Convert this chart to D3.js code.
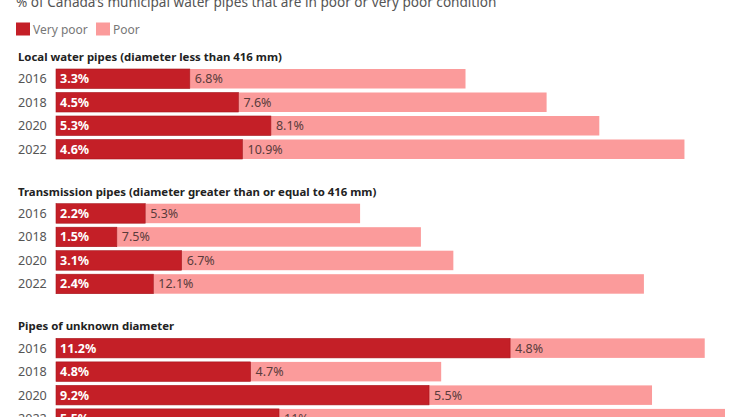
<!DOCTYPE html>
<html>
<head>
<meta charset="utf-8">
<script src="https://cdn.jsdelivr.net/npm/d3@7"></script>
<style>
  body { margin: 0; background: #fff; }
  svg { display: block; font-family: "Noto Sans", "Open Sans", sans-serif; }
</style>
</head>
<body>
<div id="chart"></div>
<script>
// pipe condition chart - stacked horizontal bars, three groups
var years = ["2016", "2018", "2020", "2022"];
var groupTitles = [
  "Local water pipes (diameter less than 416 mm)",
  "Transmission pipes (diameter greater than or equal to 416 mm)",
  "Pipes of unknown diameter"
];
var veryPoorLocal = [3.3, 4.5, 5.3, 4.6];
var poorLocal = [6.8, 7.6, 8.1, 10.9];
var veryPoorTrans = [2.2, 1.5, 3.1, 2.4];
var poorTrans = [5.3, 7.5, 6.7, 12.1];
var veryPoorUnknown = [11.2, 4.8, 9.2, 5.5];
var poorUnknown = [4.8, 4.7, 5.5, 11];
var seriesNames = ["Very poor", "Poor"];

var W = 740, H = 417;
var darkRed = "#c41f27", lightRed = "#fb9b9b";

var svg = d3.select("#chart").append("svg")
  .attr("width", W)
  .attr("height", H);

var x = d3.scaleLinear().domain([0, 16.5]).range([56, 725]);

// subtitle, mostly cut off at top
svg.append("text")
  .attr("x", 16).attr("y", 7)
  .attr("font-size", 13.6)
  .attr("fill", "#555")
  .text("% of Canada\u2019s municipal water pipes that are in poor or very poor condition");

// legend
var legend = svg.append("g");
var legX = [16, 96];
seriesNames.forEach(function(n, i) {
  legend.append("rect")
    .attr("x", legX[i]).attr("y", 22.5)
    .attr("width", 14).attr("height", 13)
    .attr("fill", i == 0 ? darkRed : lightRed);
  legend.append("text")
    .attr("x", legX[i] + 17).attr("y", 33.5)
    .attr("font-size", 12)
    .attr("fill", "#777")
    .text(n);
});

var groups = [
  {title: groupTitles[0], vp: veryPoorLocal, p: poorLocal},
  {title: groupTitles[1], vp: veryPoorTrans, p: poorTrans},
  {title: groupTitles[2], vp: veryPoorUnknown, p: poorUnknown}
];

var groupTop = d3.scaleLinear().domain([0, 1]).range([67, 201.7]);
var y = d3.scaleBand().domain(years).range([0, 94]).paddingInner(0.17).paddingOuter(0.085);

groups.forEach(function(gd, gi) {
  var top = groupTop(gi);
  var g = svg.append("g").attr("transform", "translate(0," + top + ")");

  g.append("text")
    .attr("x", 18).attr("y", -6)
    .attr("font-size", 11.4)
    .attr("font-weight", "bold")
    .attr("fill", "#222")
    .text(gd.title);

  years.forEach(function(yr, i) {
    var vp = gd.vp[i], p = gd.p[i];
    var y0 = y(yr), bh = y.bandwidth();

    g.append("text")
      .attr("x", 18).attr("y", y0 + bh / 2 + 4.5)
      .attr("font-size", 12.6)
      .attr("fill", "#555")
      .text(yr);

    g.append("rect")
      .attr("x", x(vp)).attr("y", y0)
      .attr("width", x(vp + p) - x(vp)).attr("height", bh)
      .attr("fill", lightRed);

    g.append("rect")
      .attr("x", x(0)).attr("y", y0)
      .attr("width", x(vp) - x(0)).attr("height", bh)
      .attr("fill", darkRed)
      .attr("stroke", "#a8141b")
      .attr("stroke-width", 0.6);

    g.append("text")
      .attr("x", x(0) + 4).attr("y", y0 + bh / 2 + 4.5)
      .attr("font-size", 12.5)
      .attr("font-weight", "bold")
      .attr("fill", "#fff")
      .text(vp + "%");

    g.append("text")
      .attr("x", x(vp) + 5).attr("y", y0 + bh / 2 + 4.5)
      .attr("font-size", 12.5)
      .attr("fill", "#5a3b3b")
      .text(p + "%");
  });
});
</script>
</body>
</html>
